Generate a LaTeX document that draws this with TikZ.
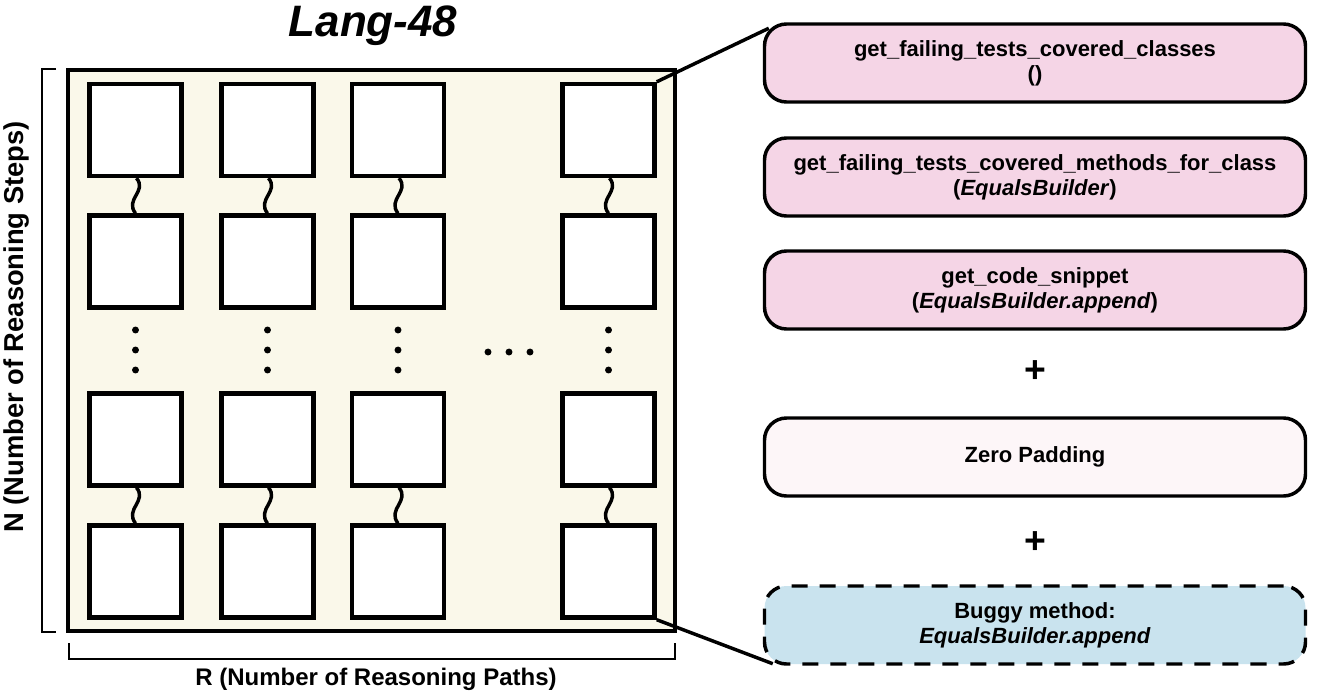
\documentclass[tikz,border=0pt]{standalone}
\usepackage{fontspec}
\setmainfont{Liberation Sans}
\definecolor{panelfill}{HTML}{FAF8EA}
\definecolor{toolpink}{HTML}{F5D5E6}
\definecolor{padpink}{HTML}{FDF6F8}
\definecolor{bugblue}{HTML}{C9E3EE}
\tikzset{
	cell/.style={draw,line width=3.3pt,fill=white,minimum size=69pt,inner sep=0pt},
	toolbox/.style={draw,line width=2.6pt,rounded corners=16.5pt,fill=toolpink,
		minimum width=405.75pt,minimum height=58.5pt,align=center,
		font=\fontsize{16.5}{19}\selectfont\bfseries},
	wave/.style={line width=2.6pt},
	link/.style={line width=2.6pt},
	bracket/.style={line width=1.1pt},
	axislabel/.style={font=\fontsize{18}{21}\selectfont\bfseries},
	pluslabel/.style={font=\fontsize{28}{32}\selectfont\bfseries}
}
\begin{document}
\begin{tikzpicture}[x=0.75pt,y=-0.75pt]
	\useasboundingbox (0,0) rectangle (1339,697);
	% panel of reasoning paths
	\draw[line width=3pt,fill=panelfill] (68,70) rectangle (675,631);
	\node[font=\fontsize{33}{38}\selectfont\bfseries\itshape] (title) at (373,26) {Lang-48};
	\foreach \x [count=\i] in {135.5,267.5,398,608.5}
		\foreach \y [count=\j] in {130,261.5,439.5,571.5}
			\node[cell] (c\j\i) at (\x,\y) {};
	\foreach \i in {1,...,4}{
		\draw[wave] ([xshift=0.75pt]c1\i.south) .. controls +(11,13) and +(-11,-14) .. (c2\i.north);
		\draw[wave] ([xshift=0.75pt]c3\i.south) .. controls +(11,13) and +(-11,-14) .. (c4\i.north);
	}
	\foreach \x in {135.5,267.5,398,608.5}
		\foreach \y in {330,350,370}
			\fill (\x,\y) circle (2.6pt);
	\foreach \x in {488,509,530}
		\fill (\x,352) circle (2.6pt);
	% brackets
	\draw[bracket] (56,69) -- (42,69) -- (42,632) -- (56,632);
	\draw[bracket] (69,643) -- (69,659) -- (675,659) -- (675,643);
	\node[axislabel,font=\fontsize{20.5}{24}\selectfont\bfseries,rotate=90] (nlabel) at (16,327) {N (Number of Reasoning Steps)};
	\node[axislabel] (rlabel) at (376,679) {R (Number of Reasoning Paths)};
	% tool calls
	\node[toolbox] (t1) at (1035,63) {get\_failing\_tests\_covered\_classes\\()};
	\node[toolbox] (t2) at (1035,177) {get\_failing\_tests\_covered\_methods\_for\_class\\(\textit{EqualsBuilder})};
	\node[toolbox] (t3) at (1035,290) {get\_code\_snippet\\(\textit{EqualsBuilder.append})};
	\node[pluslabel] (p1) at (1035,372) {+};
	\node[toolbox,fill=padpink] (t4) at (1035,457) {Zero Padding};
	\node[pluslabel] (p2) at (1035,543) {+};
	\node[toolbox,fill=bugblue,dash pattern=on 12pt off 9pt] (t5) at (1035,625) {Buggy method:\\\textit{EqualsBuilder.append}};
	\draw[link] (c14.north east) -- ([shift={(6,6)}]t1.north west);
	\draw[link] (c44.south east) -- ([shift={(10,-2)}]t5.south west);
\end{tikzpicture}
\end{document}
